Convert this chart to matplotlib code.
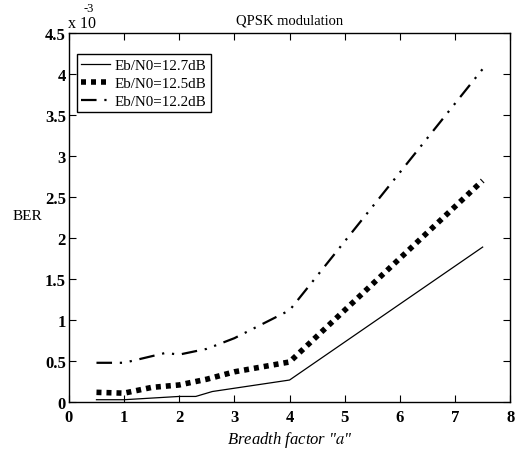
import matplotlib
matplotlib.use("Agg")
import matplotlib.pyplot as plt

plt.rcParams["font.family"] = ["Liberation Serif", "DejaVu Serif"]
plt.rcParams["mathtext.fontset"] = "stix"

# BER curves (x 1e-3) against breadth factor a
a_127 = [0.5, 1.0, 2.0, 2.3, 2.6, 3.0, 4.0, 7.5]
ber_127 = [0.03, 0.03, 0.07, 0.07, 0.13, 0.17, 0.27, 1.89]

a_125 = [0.5, 1.0, 1.5, 2.0, 2.5, 3.0, 3.5, 4.0, 7.5]
ber_125 = [0.12, 0.11, 0.18, 0.21, 0.28, 0.37, 0.43, 0.49, 2.70]

a_122 = [0.5, 1.0, 1.75, 2.0, 2.5, 3.0, 4.0, 7.5]
ber_122 = [0.48, 0.48, 0.60, 0.58, 0.65, 0.78, 1.12, 4.06]

labels = ["Eb/N0=12.7dB", "Eb/N0=12.5dB", "Eb/N0=12.2dB"]
x_ticks = [0, 1, 2, 3, 4, 5, 6, 7, 8]
y_ticks = [0, 0.5, 1, 1.5, 2, 2.5, 3, 3.5, 4, 4.5]

fig = plt.figure(figsize=(5.18, 4.52), dpi=100)
ax = fig.add_axes([0.133, 0.108, 0.852, 0.817])

ax.plot(a_127, ber_127, color="black", lw=0.9, label=labels[0])
ax.plot(a_125, ber_125, color="black", lw=4.0, linestyle=(0, (0.9, 0.9)),
        dash_capstyle="butt", label=labels[1])
ax.plot(a_122, ber_122, color="black", lw=1.6,
        linestyle=(0, (7, 3.5, 1, 3.5, 1, 3.5)), label=labels[2])

ax.set_xlim(0, 8)
ax.set_ylim(0, 4.5)
ax.set_xticks(x_ticks)
ax.set_yticks(y_ticks)
ax.set_xticklabels([str(v) for v in x_ticks], fontweight="bold", fontsize=12)
ax.set_yticklabels([f"{v:g}" for v in y_ticks], fontweight="bold", fontsize=12)
ax.tick_params(axis="x", direction="in", top=True, length=5, width=0.8, pad=5)
ax.tick_params(axis="y", direction="in", right=True, length=5, width=0.8, pad=2)
for s in ax.spines.values():
    s.set_linewidth(1.0)

ax.set_title("QPSK modulation", fontsize=10.5, pad=7)
# axis multiplier drawn as plain text with a raised exponent
ax.text(-0.003, 1.006, "x 10", transform=ax.transAxes, fontsize=11.5,
        ha="left", va="bottom")
ax.text(0.034, 1.05, "-3", transform=ax.transAxes, fontsize=9,
        ha="left", va="bottom")
ax.set_ylabel("BER", rotation=0, fontsize=11, ha="center", va="center")
ax.yaxis.set_label_coords(-0.095, 0.505)
ax.set_xlabel(r'Breadth factor "$a$"', fontsize=12, style="italic", labelpad=3)

leg = ax.legend(loc="upper left", bbox_to_anchor=(0.018, 0.943), fontsize=10.8,
                fancybox=False, edgecolor="black", framealpha=1,
                handlelength=1.9, handletextpad=0.3, borderpad=0.3,
                labelspacing=0.3, borderaxespad=0.0)
leg.get_frame().set_linewidth(1.0)

fig.savefig("out.png", dpi=100)
